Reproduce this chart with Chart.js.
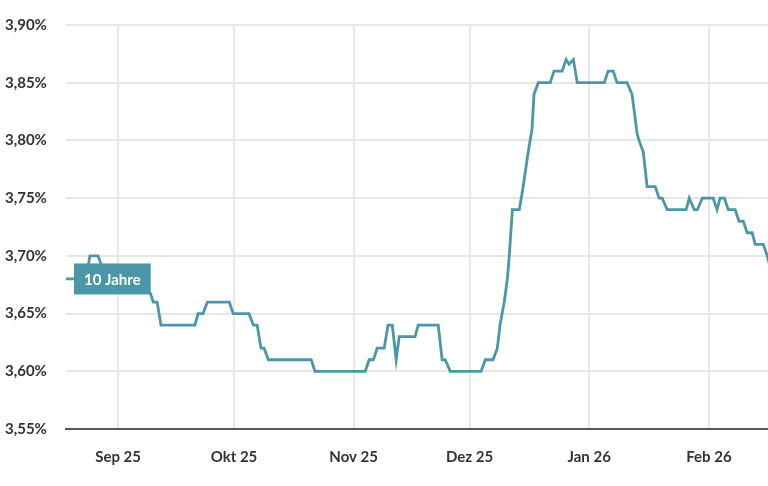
<!DOCTYPE html>
<html>
<head>
<meta charset="utf-8">
<script src="https://cdn.jsdelivr.net/npm/chart.js@4.4.1/dist/chart.umd.min.js"></script>
<style>
  html, body { margin: 0; padding: 0; background: #ffffff; }
  #wrap { width: 768px; height: 486px; }
</style>
</head>
<body>
<div id="wrap"><canvas id="c" width="768" height="486"></canvas></div>
<script>
// Days counted from 1 Sep 2025 (Sep 1 = 0)
const dayOffsets = [
  -13.5, -8.3, -7.3, -5.2, -4.1, -2.0, 0.5, 6.5, 7.5, 8.3, 9.1, 10.1, 11.1,
  19.9, 20.7, 22.0, 23.1, 28.8, 29.8, 33.9, 35.0, 36.0, 37.0, 37.8, 38.9,
  50.0, 51.0, 64.0, 65.0, 66.1, 67.1, 68.9, 69.9, 71.0, 72.0, 72.8, 76.9,
  77.7, 82.9, 83.9, 84.7, 86.0, 94.0, 95.1, 97.1, 98.2, 98.9, 100.0, 100.8,
  101.3, 102.1, 103.9, 104.9, 106.2, 107.2, 107.7, 108.8, 111.9, 112.9,
  115.0, 116.0, 116.8, 117.9, 118.9, 125.9, 126.9, 128.2, 129.2, 131.8,
  133.1, 134.4, 134.9, 136.0, 137.0, 139.1, 140.1, 140.9, 142.2, 147.1,
  147.9, 149.2, 150.0, 151.3, 154.1, 155.1, 155.9, 157.0, 158.0, 159.8,
  160.8, 161.9, 162.9, 164.2, 165.0, 167.1, 168.1, 168.9
];
const yields = [
  3.68, 3.68, 3.70, 3.70, 3.69, 3.69, 3.68, 3.68, 3.67, 3.668, 3.66, 3.66, 3.64,
  3.64, 3.65, 3.65, 3.66, 3.66, 3.65, 3.65, 3.64, 3.64, 3.62, 3.62, 3.61,
  3.61, 3.60, 3.60, 3.61, 3.61, 3.62, 3.62, 3.64, 3.64, 3.61, 3.63, 3.63,
  3.64, 3.64, 3.61, 3.61, 3.60, 3.60, 3.61, 3.61, 3.62, 3.64, 3.66, 3.68,
  3.70, 3.74, 3.74, 3.76, 3.79, 3.81, 3.84, 3.85, 3.85, 3.86,
  3.86, 3.87, 3.866, 3.87, 3.85, 3.85, 3.86, 3.86, 3.85, 3.85,
  3.84, 3.806, 3.80, 3.79, 3.76, 3.76, 3.75, 3.75, 3.74, 3.74,
  3.75, 3.74, 3.74, 3.75, 3.75, 3.74, 3.75, 3.75, 3.74, 3.74,
  3.73, 3.73, 3.72, 3.72, 3.71, 3.71, 3.70, 3.69
];
const monthTickDays = [0, 30, 61, 91, 122, 153];
const monthTickLabels = ['Sep 25', 'Okt 25', 'Nov 25', 'Dez 25', 'Jan 26', 'Feb 26'];
const yTickValues = [3.55, 3.60, 3.65, 3.70, 3.75, 3.80, 3.85, 3.90];
const seriesName = '10 Jahre';

const TEAL = '#4b97a8';
const FONT = 'Lato, "Open Sans", sans-serif';

const points = dayOffsets.map((d, i) => ({ x: d, y: yields[i] }));

const seriesLabel = {
  id: 'seriesLabel',
  afterDatasetsDraw(chart) {
    const meta = chart.getDatasetMeta(0);
    const p0 = meta.data[0];
    if (!p0) return;
    const ctx = chart.ctx;
    ctx.save();
    ctx.font = 'bold 15px ' + FONT;
    const tw = ctx.measureText(seriesName).width;
    const w = tw + 20, h = 31;
    const x = p0.x + 8, y = p0.y - h / 2;
    ctx.fillStyle = TEAL;
    ctx.fillRect(x, y, w, h);
    ctx.fillStyle = '#ffffff';
    ctx.textAlign = 'center';
    ctx.textBaseline = 'middle';
    ctx.fillText(seriesName, x + w / 2, p0.y + 1);
    ctx.restore();
  }
};

new Chart(document.getElementById('c'), {
  type: 'line',
  data: {
    datasets: [{
      label: seriesName,
      data: points,
      borderColor: TEAL,
      borderWidth: 2.8,
      pointRadius: 0,
      tension: 0,
      fill: false
    }]
  },
  options: {
    responsive: false,
    animation: false,
    layout: { padding: { left: 5, top: 25, right: 0, bottom: 0 } },
    plugins: { legend: { display: false }, tooltip: { enabled: false } },
    scales: {
      x: {
        type: 'linear',
        min: -13.5,
        max: 168.3,
        afterBuildTicks: (axis) => { axis.ticks = monthTickDays.map(v => ({ value: v })); },
        afterFit: (axis) => { axis.height = 57; },
        grid: { color: '#e7e7e7', lineWidth: 2, drawTicks: false },
        border: { display: true, color: '#585858', width: 2 },
        ticks: {
          autoSkip: false,
          maxRotation: 0,
          padding: 19,
          color: '#333333',
          font: { family: FONT, size: 15, weight: 'bold' },
          callback: (v) => {
            const i = monthTickDays.indexOf(v);
            return i >= 0 ? monthTickLabels[i] : '';
          }
        }
      },
      y: {
        min: 3.55,
        max: 3.90,
        afterBuildTicks: (axis) => { axis.ticks = yTickValues.map(v => ({ value: v })); },
        afterFit: (axis) => { axis.width = 61; },
        grid: { color: '#e7e7e7', lineWidth: 2, drawTicks: false },
        border: { display: false },
        ticks: {
          crossAlign: 'far',
          padding: 0,
          color: '#333333',
          font: { family: FONT, size: 15, weight: 'bold' },
          callback: (v) => v.toFixed(2).replace('.', ',') + '%'
        }
      }
    }
  },
  plugins: [seriesLabel]
});
</script>
</body>
</html>
